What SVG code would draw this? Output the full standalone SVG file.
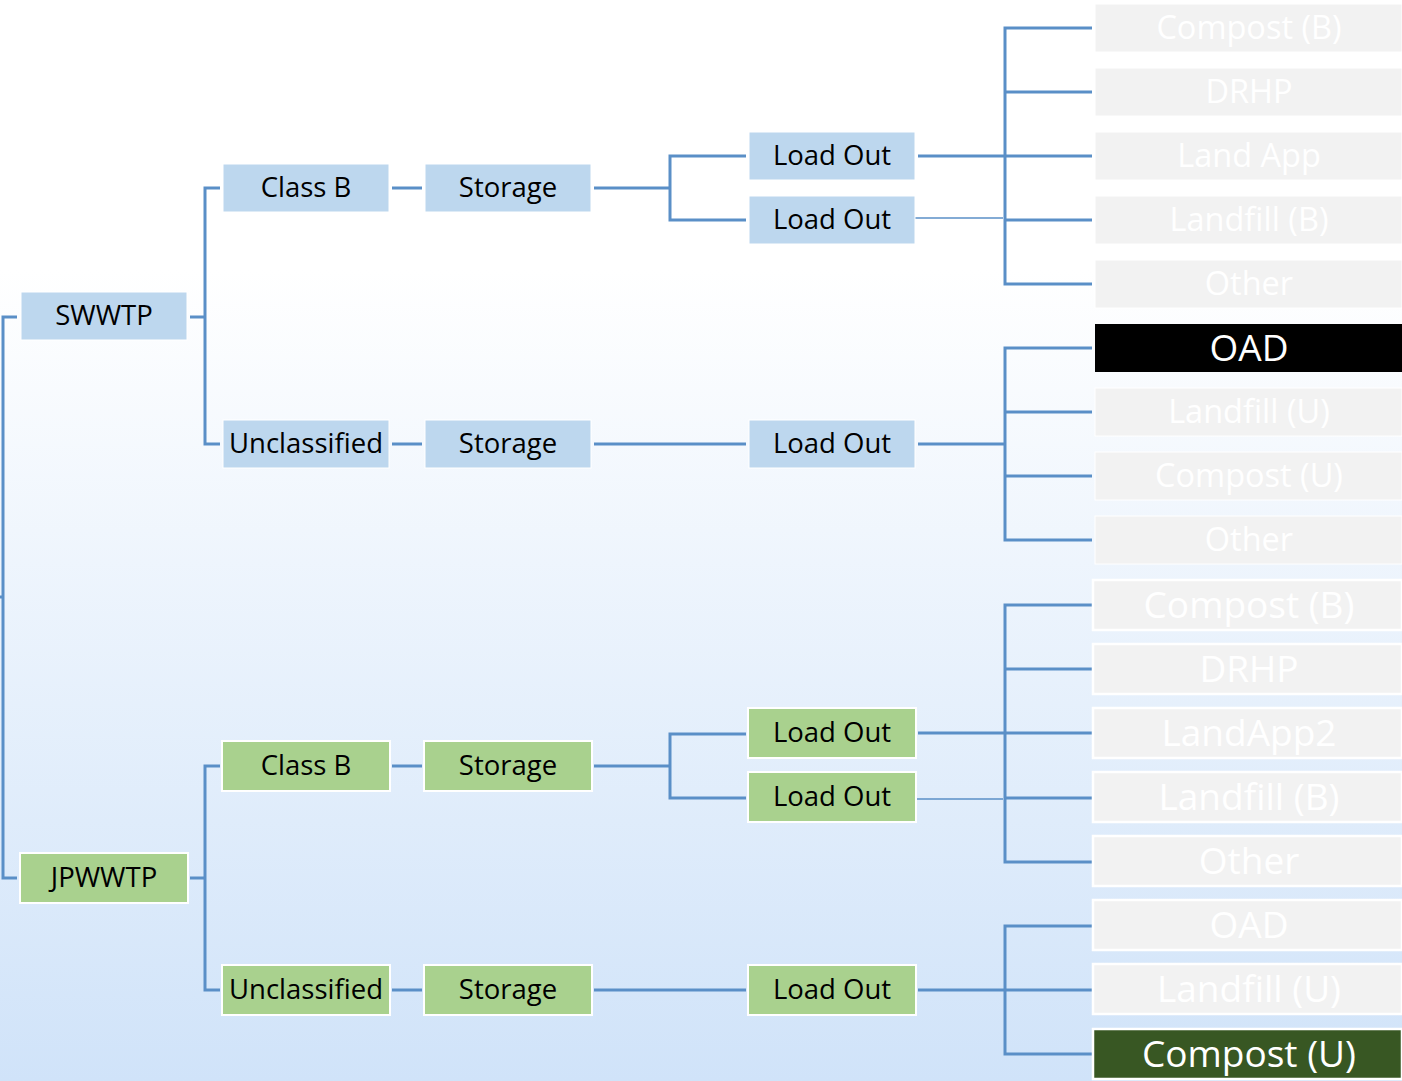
<svg xmlns="http://www.w3.org/2000/svg" width="1402" height="1081" viewBox="0 0 1402 1081">
<defs>
<linearGradient id="bg" x1="0" y1="0" x2="0" y2="1">
<stop offset="0" stop-color="#ffffff"/>
<stop offset="0.25" stop-color="#ffffff"/>
<stop offset="1" stop-color="#d0e3f9"/>
</linearGradient>
<style>
.b{fill:#bdd7ee;stroke:#ffffff;stroke-width:1}
.g{fill:#a9d18e;stroke:#ffffff;stroke-width:2}
.gr{fill:#f2f2f2;stroke:#ffffff;stroke-width:1}
.gr2{fill:#f2f2f2;stroke:#ffffff;stroke-width:2.5}
.t{font-family:"Open Sans","Noto Sans",sans-serif;font-size:27.5px;fill:#000000;text-anchor:middle;dominant-baseline:central}
.w{font-family:"Open Sans","Noto Sans",sans-serif;font-size:32.5px;fill:#ffffff;text-anchor:middle;dominant-baseline:central}
.w2{font-family:"Open Sans","Noto Sans",sans-serif;font-size:37px;fill:#ffffff;text-anchor:middle;dominant-baseline:central}
.c{fill:none;stroke:#5a8fc7;stroke-width:3}
.c1{fill:none;stroke:#5a8fc7;stroke-width:1.3}
</style>
</defs>
<rect x="0" y="0" width="1402" height="1081" fill="url(#bg)"/>
<g id="connectors">
<path class="c" d="M0 597H3M17 317H3V878H17"/>
<path class="c" d="M190 317H205M220 188H205V444H220"/>
<path class="c" d="M392 188H422M594 188H670M746 156H670V220H746"/>
<path class="c" d="M392 444H422M594 444H746"/>
<path class="c" d="M918 156H1005"/>
<path class="c1" d="M915 218H1003"/>
<path class="c" d="M1092 28H1005V284H1092M1005 92H1092M1005 156H1092M1005 220H1092"/>
<path class="c" d="M918 444H1005M1092 348H1005V540H1092M1005 412H1092M1005 476H1092"/>
<path class="c" d="M190 878H205M220 766H205V990H220"/>
<path class="c" d="M392 766H422M594 766H670M746 734H670V798H746"/>
<path class="c" d="M392 990H422M594 990H746"/>
<path class="c" d="M918 733H1005"/>
<path class="c1" d="M916 799H1003"/>
<path class="c" d="M1092 605H1005V862H1092M1005 669H1092M1005 733H1092M1005 798H1092"/>
<path class="c" d="M918 990H1005M1092 926H1005V1054H1092M1005 990H1092"/>
</g>
<g id="swwtp"><rect class="b" x="21" y="292" width="166" height="48"/><text class="t" x="104" y="314">SWWTP</text></g>
<g id="s_classb"><rect class="b" x="223" y="164" width="166" height="48"/><text class="t" x="306" y="186">Class B</text></g>
<g id="s_uncl"><rect class="b" x="223" y="420" width="166" height="48"/><text class="t" x="306" y="442">Unclassified</text></g>
<g id="s_stor1"><rect class="b" x="425" y="164" width="166" height="48"/><text class="t" x="508" y="186">Storage</text></g>
<g id="s_stor2"><rect class="b" x="425" y="420" width="166" height="48"/><text class="t" x="508" y="442">Storage</text></g>
<g id="s_lo1"><rect class="b" x="749" y="132" width="166" height="48"/><text class="t" x="832" y="154">Load Out</text></g>
<g id="s_lo2"><rect class="b" x="749" y="196" width="166" height="48"/><text class="t" x="832" y="218">Load Out</text></g>
<g id="s_lo3"><rect class="b" x="749" y="420" width="166" height="48"/><text class="t" x="832" y="442">Load Out</text></g>
<g id="r1"><rect class="gr" x="1095" y="4" width="307" height="48"/><text class="w" x="1249" y="26">Compost (B)</text></g>
<g id="r2"><rect class="gr" x="1095" y="68" width="307" height="48"/><text class="w" x="1249" y="90">DRHP</text></g>
<g id="r3"><rect class="gr" x="1095" y="132" width="307" height="48"/><text class="w" x="1249" y="154">Land App</text></g>
<g id="r4"><rect class="gr" x="1095" y="196" width="307" height="48"/><text class="w" x="1249" y="218">Landfill (B)</text></g>
<g id="r5"><rect class="gr" x="1095" y="260" width="307" height="48"/><text class="w" x="1249" y="282">Other</text></g>
<g id="r6"><rect x="1095" y="324" width="307" height="48" fill="#000000"/><text class="w2" x="1249" y="346">OAD</text></g>
<g id="r7"><rect class="gr" x="1095" y="388" width="307" height="48"/><text class="w" x="1249" y="410">Landfill (U)</text></g>
<g id="r8"><rect class="gr" x="1095" y="452" width="307" height="48"/><text class="w" x="1249" y="474">Compost (U)</text></g>
<g id="r9"><rect class="gr" x="1095" y="516" width="307" height="48"/><text class="w" x="1249" y="538">Other</text></g>
<g id="jpwwtp"><rect class="g" x="20" y="853" width="168" height="50"/><text class="t" x="104" y="876">JPWWTP</text></g>
<g id="j_classb"><rect class="g" x="222" y="741" width="168" height="50"/><text class="t" x="306" y="764">Class B</text></g>
<g id="j_uncl"><rect class="g" x="222" y="965" width="168" height="50"/><text class="t" x="306" y="988">Unclassified</text></g>
<g id="j_stor1"><rect class="g" x="424" y="741" width="168" height="50"/><text class="t" x="508" y="764">Storage</text></g>
<g id="j_stor2"><rect class="g" x="424" y="965" width="168" height="50"/><text class="t" x="508" y="988">Storage</text></g>
<g id="j_lo1"><rect class="g" x="748" y="708" width="168" height="50"/><text class="t" x="832" y="731">Load Out</text></g>
<g id="j_lo2"><rect class="g" x="748" y="772" width="168" height="50"/><text class="t" x="832" y="795">Load Out</text></g>
<g id="j_lo3"><rect class="g" x="748" y="965" width="168" height="50"/><text class="t" x="832" y="988">Load Out</text></g>
<g id="q1"><rect class="gr2" x="1093" y="580" width="309" height="50"/><text class="w2" x="1249" y="603">Compost (B)</text></g>
<g id="q2"><rect class="gr2" x="1093" y="644" width="309" height="50"/><text class="w2" x="1249" y="667">DRHP</text></g>
<g id="q3"><rect class="gr2" x="1093" y="708" width="309" height="50"/><text class="w2" x="1249" y="731">LandApp2</text></g>
<g id="q4"><rect class="gr2" x="1093" y="772" width="309" height="50"/><text class="w2" x="1249" y="795">Landfill (B)</text></g>
<g id="q5"><rect class="gr2" x="1093" y="836" width="309" height="50"/><text class="w2" x="1249" y="859">Other</text></g>
<g id="q6"><rect class="gr2" x="1093" y="900" width="309" height="50"/><text class="w2" x="1249" y="923">OAD</text></g>
<g id="q7"><rect class="gr2" x="1093" y="964" width="309" height="50"/><text class="w2" x="1249" y="987">Landfill (U)</text></g>
<g id="q8"><rect x="1093" y="1029" width="309" height="50" fill="#385723" stroke="#ffffff" stroke-width="2.5"/><text class="w2" x="1249" y="1052">Compost (U)</text></g>
</svg>
